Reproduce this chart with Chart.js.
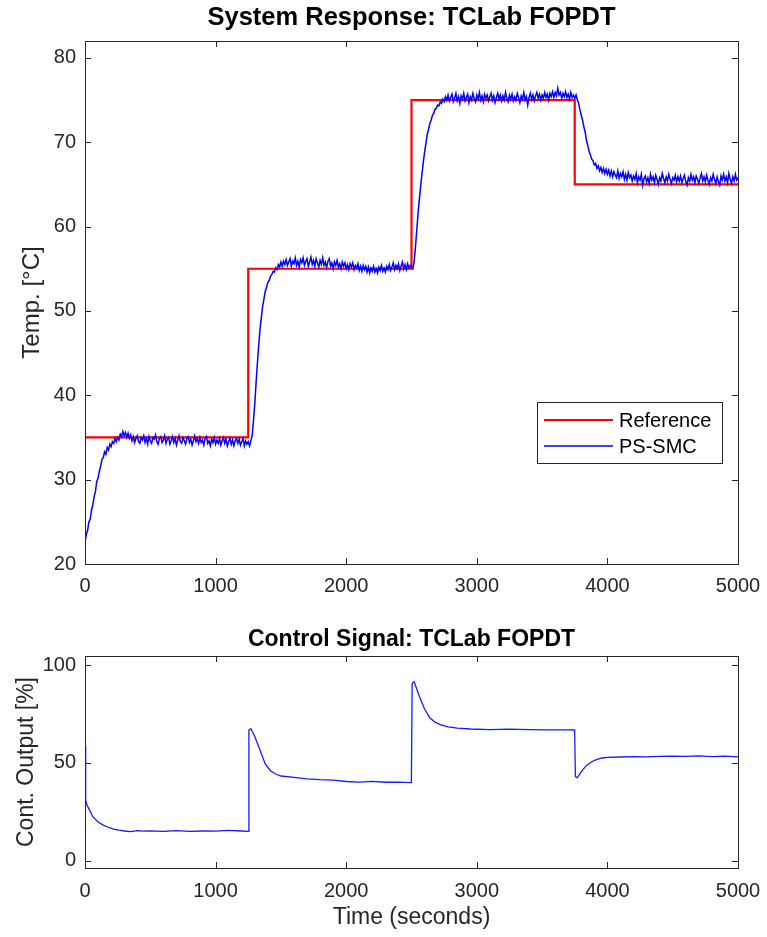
<!DOCTYPE html>
<html>
<head>
<meta charset="utf-8">
<script src="https://cdn.jsdelivr.net/npm/chart.js@4.4.1/dist/chart.umd.min.js"></script>
<style>
  body { margin: 0; background: #fff; }
  #top { position: absolute; left: 0; top: 0; width: 767px; height: 600px; }
  #bot { position: absolute; left: 0; top: 610px; width: 767px; height: 327px; }
</style>
</head>
<body>
<div id="top"><canvas id="tempChart"></canvas></div>
<div id="bot"><canvas id="uChart"></canvas></div>
<script>
// --- data ---
var tempStep = 10   // seconds between logged temperature samples

// PS-SMC measured temperature, one value every 10 s from 0 to 5000 s
var psSmcTemp = [
  // 0 - 1240 s (setpoint 35)
  22.6, 23.5, 24.0, 25.0, 25.3, 26.4, 27.0, 28.0, 28.6, 29.8,
  30.2, 31.0, 31.6, 32.4, 32.6, 33.3, 33.0, 33.8, 33.5, 34.2,
  33.9, 34.5, 34.3, 34.9, 34.5, 35.0, 34.7, 35.4, 35.1, 35.7,
  35.2, 35.6, 35.0, 35.5, 34.9, 35.3,
  34.6, 35.1, 34.4, 34.9, 35.2, 34.5, 34.3, 35.0, 34.7, 35.2,
  34.4, 34.9, 34.2, 35.1, 34.6, 34.3, 35.0, 34.8, 35.3, 34.5,
  34.2, 34.9, 35.1, 34.4, 34.7, 35.2, 34.3, 34.8, 35.0, 34.2,
  34.6, 35.1, 34.4, 34.9, 34.1, 34.7, 35.2, 34.5, 34.3, 35.0,
  34.6, 34.2, 34.9, 35.1, 34.4, 34.8, 34.1, 34.6, 35.2, 34.5,
  34.9, 34.3, 35.0, 34.4, 34.7, 34.1, 34.9, 35.1, 34.3, 34.6,
  34.0, 34.8, 34.4, 35.0, 34.2, 34.7, 34.3, 34.9, 34.1, 34.6,
  35.0, 34.3, 34.8, 34.0, 34.5, 34.9, 34.2, 34.7, 34.0, 34.6,
  34.9, 34.3, 34.8, 34.1, 34.5, 34.9, 34.0, 34.6, 34.2,
  // 1250 - 2490 s (setpoint 55)
  34.5, 34.0, 34.6, 35.2, 37.0, 39.0, 41.5, 43.8, 45.9, 47.8,
  49.2, 50.5, 51.4, 52.3, 52.8, 53.4, 53.6, 54.1, 54.3, 54.7,
  54.6, 55.1, 54.9, 55.5, 55.2, 55.8, 55.3, 55.9, 55.5, 56.1,
  55.4, 55.8, 56.2, 55.3, 55.9, 55.6, 56.3, 55.4, 55.9, 55.2,
  56.1, 55.7, 56.3, 55.4, 55.9, 56.2, 55.3, 55.8, 56.4, 55.5,
  56.0, 55.3, 56.2, 55.7, 55.2, 56.0, 55.5, 56.3, 55.4, 55.8,
  55.1, 55.9, 56.2, 55.3, 55.7, 55.0, 55.8, 55.4, 56.0, 55.2,
  55.6, 55.0, 55.8, 55.3, 55.7, 55.0, 55.5, 54.9, 55.6, 55.2,
  55.7, 54.9, 55.4, 55.1, 55.6, 54.8, 55.3, 54.7, 55.4, 54.9,
  55.3, 54.6, 55.2, 54.5, 55.1, 54.7, 55.3, 54.6, 55.0, 54.5,
  55.2, 54.8, 55.4, 54.7, 55.1, 54.6, 55.3, 54.9, 55.5, 54.8,
  55.2, 55.7, 54.9, 55.4, 55.0, 55.6, 54.8, 55.3, 55.8, 55.0,
  55.5, 54.9, 55.6, 55.1, 55.4,
  // 2500 - 3740 s (setpoint 75)
  55.2, 55.0, 55.8, 57.5, 59.5, 61.5, 63.2, 64.8, 66.2, 67.6,
  68.8, 69.8, 70.9, 71.5, 72.2, 72.6, 73.2, 73.4, 73.9, 74.0,
  74.4, 74.3, 74.8, 74.6, 75.1, 74.8, 75.4, 75.0, 75.6, 74.9,
  75.3, 75.7, 74.8, 75.2, 75.8, 74.9, 75.4, 74.6, 75.5, 75.1,
  75.8, 74.9, 75.3, 75.7, 74.7, 75.4, 75.0, 75.8, 75.2, 74.8,
  75.6, 75.1, 75.9, 75.0, 75.5, 74.8, 75.7, 75.2, 75.6, 74.9,
  75.4, 75.8, 75.0, 75.5, 74.7, 75.3, 75.8, 75.1, 75.6, 74.9,
  75.5, 75.0, 75.9, 75.2, 74.8, 75.6, 75.1, 75.7, 74.9, 75.4,
  75.0, 75.8, 75.3, 74.7, 75.5, 75.1, 75.9, 75.0, 75.4, 74.4,
  75.3, 75.8, 75.1, 75.6, 74.9, 75.5, 75.9, 75.2, 75.7, 75.0,
  75.6, 75.2, 75.9, 75.3, 75.7, 75.0, 75.8, 75.4, 76.0, 75.3,
  75.9, 75.5, 76.4, 75.6, 75.9, 75.2, 75.8, 75.4, 76.0, 75.3,
  75.7, 75.1, 75.9, 75.3, 75.6,
  // 3750 - 5000 s (setpoint 65)
  75.2, 75.6, 75.0, 74.6, 73.8, 73.2, 72.6, 71.8, 71.2, 70.2,
  69.6, 68.9, 68.5, 68.0, 67.8, 67.3, 67.5, 66.9, 67.2, 66.6,
  67.0, 66.4, 66.9, 66.3, 66.8, 66.2, 66.7, 66.0, 66.6, 65.9,
  66.5, 66.1, 65.8, 66.6, 65.7, 66.3, 65.9, 66.5, 65.6, 66.2,
  65.5, 66.4, 65.8, 66.1, 65.4, 66.0, 65.6, 66.3, 65.2, 65.9,
  65.5, 66.2, 64.9, 65.7, 66.0, 65.3, 65.8, 65.1, 66.2, 65.5,
  65.9, 65.2, 66.1, 65.6, 65.0, 65.8, 65.4, 66.3, 65.7, 65.2,
  65.9, 65.4, 66.2, 65.6, 65.1, 65.8, 65.5, 66.1, 65.3, 65.9,
  65.4, 66.0, 65.2, 65.7, 66.1, 65.3, 64.9, 65.8, 65.4, 66.2,
  65.5, 65.9, 65.2, 66.0, 65.6, 65.1, 65.8, 66.3, 65.4, 65.9,
  65.3, 66.1, 65.5, 65.0, 65.8, 65.4, 66.2, 65.6, 65.1, 65.9,
  65.3, 64.9, 66.0, 65.5, 66.2, 65.4, 65.9, 65.2, 66.3, 65.6,
  65.1, 65.9, 65.4, 66.2, 65.5, 65.8
]

// setpoint steps
var refTimes  = [0, 1250, 1250, 2500, 2500, 3750, 3750, 5000]
var refValues = [35, 35, 55, 55, 75, 75, 65, 65]

// controller output
var uTimes = [
  0, 5, 15, 30, 60, 100, 140, 180, 220, 260,
  300, 350, 400, 450, 500, 600, 700, 800, 900, 1000,
  1100, 1200, 1249, 1255, 1270, 1300, 1340, 1380, 1420, 1460,
  1500, 1600, 1700, 1800, 1900, 2000, 2100, 2200, 2300, 2400,
  2499, 2505, 2520, 2560, 2600, 2640, 2680, 2720, 2780, 2850,
  2950, 3100, 3250, 3400, 3550, 3700, 3749, 3755, 3770, 3800,
  3840, 3880, 3920, 3960, 4000, 4100, 4200, 4300, 4400, 4500,
  4600, 4700, 4800, 4900, 5000
]
var uValues = [
  58.5, 31.0, 28.5, 26.5, 22.5, 19.8, 18.2, 17.0, 16.2, 15.6,
  15.2, 14.9, 15.4, 15.1, 15.3, 15.0, 15.4, 15.0, 15.2, 15.1,
  15.5, 15.2, 15.0, 66.8, 67.5, 63.5, 56.6, 49.5, 46.0, 44.3,
  43.3, 42.6, 41.8, 41.4, 41.2, 40.5, 40.2, 40.6, 40.1, 40.2,
  39.9, 90.5, 91.5, 84.0, 77.5, 73.0, 70.8, 69.5, 68.4, 67.8,
  67.3, 67.0, 67.2, 67.0, 66.9, 66.9, 66.8, 43.0, 42.5, 45.5,
  48.7, 50.6, 51.8, 52.5, 52.8, 53.0, 53.2, 53.1, 53.3, 53.4,
  53.3, 53.6, 53.2, 53.4, 53.1
]

var timeTicks = [0, 1000, 2000, 3000, 4000, 5000]

var FONT = "'Liberation Sans', Arial, Helvetica, sans-serif"
Chart.defaults.font.family = FONT
Chart.defaults.color = '#262626'

function pairs(xs, ys) {
  var out = []
  for (var i = 0; i < ys.length; i++) out.push({x: xs[i], y: ys[i]})
  return out
}
var tempTimes = []
for (var i = 0; i < psSmcTemp.length; i++) tempTimes.push(i * tempStep)

// matlab style box with inward ticks on all four sides
var boxTicks = {
  id: 'boxTicks',
  afterDatasetsDraw: function(chart) {
    var c = chart.ctx, a = chart.chartArea
    var sx = chart.scales.x, sy = chart.scales.y
    var len = 6
    c.save()
    c.strokeStyle = '#262626'
    c.lineWidth = 1
    c.beginPath()
    sx.ticks.forEach(function(t) {
      var px = Math.round(sx.getPixelForValue(t.value)) + 0.5
      c.moveTo(px, a.bottom); c.lineTo(px, a.bottom - len)
      c.moveTo(px, a.top); c.lineTo(px, a.top + len)
    })
    sy.ticks.forEach(function(t) {
      var py = Math.round(sy.getPixelForValue(t.value)) + 0.5
      c.moveTo(a.left, py); c.lineTo(a.left + len, py)
      c.moveTo(a.right, py); c.lineTo(a.right - len, py)
    })
    c.stroke()
    c.strokeRect(Math.round(a.left) + 0.5, Math.round(a.top) + 0.5,
                 Math.round(a.right - a.left), Math.round(a.bottom - a.top))
    c.restore()
  }
}

// title centred over the axes, not the whole canvas
var axesTitle = {
  id: 'axesTitle',
  afterDraw: function(chart, args, opts) {
    var c = chart.ctx, a = chart.chartArea
    c.save()
    c.fillStyle = '#000'
    c.font = 'bold ' + opts.size + 'px ' + FONT
    c.textAlign = 'center'
    c.textBaseline = 'middle'
    c.fillText(opts.text, (a.left + a.right) / 2, opts.y)
    c.restore()
  }
}

// legend box drawn inside the axes, lower right
var innerLegend = {
  id: 'innerLegend',
  afterDraw: function(chart) {
    var c = chart.ctx, a = chart.chartArea
    var w = 185, h = 61
    var x0 = a.right - 16 - w, y0 = a.bottom - 101 - h
    c.save()
    c.fillStyle = '#fff'
    c.fillRect(x0, y0, w, h)
    c.strokeStyle = '#262626'
    c.lineWidth = 1
    c.strokeRect(x0 + 0.5, y0 + 0.5, w, h)
    var items = chart.data.datasets.slice().sort(function(p, q) { return q.order - p.order })
    c.font = '20px ' + FONT
    c.textBaseline = 'middle'
    items.forEach(function(ds, k) {
      var yy = y0 + 18 + k * 26
      c.strokeStyle = ds.borderColor
      c.lineWidth = k == 0 ? 2.2 : 1.3
      c.beginPath(); c.moveTo(x0 + 7, yy); c.lineTo(x0 + 76, yy); c.stroke()
      c.fillStyle = '#000'
      c.fillText(ds.label, x0 + 82, yy + 1)
    })
    c.restore()
  }
}

function xAxis(height, showTitle, labelPad) {
  return {
    type: 'linear', min: 0, max: 5000,
    afterBuildTicks: function(s) { s.ticks = timeTicks.map(function(v) { return {value: v} }) },
    afterFit: function(s) {
      s.height = height
      // let the layout padding alone decide the right edge
      s.paddingLeft = 0
      s.paddingRight = 0
    },
    grid: {display: false, drawTicks: false},
    border: {display: false},
    ticks: {font: {size: 20}, padding: labelPad, maxRotation: 0, color: '#262626',
            callback: function(v) { return String(v) }},
    title: {display: showTitle, text: 'Time (seconds)', font: {size: 23}, color: '#262626',
            padding: {top: 0, bottom: 6}}
  }
}

new Chart(document.getElementById('tempChart'), {
  type: 'line',
  data: {
    datasets: [{
      label: 'Reference',
      data: pairs(refTimes, refValues),
      borderColor: '#ff0000',
      borderWidth: 2.2,
      pointRadius: 0,
      order: 1
    }, {
      label: 'PS-SMC',
      data: pairs(tempTimes, psSmcTemp),
      borderColor: '#0000ff',
      borderWidth: 1.5,
      pointRadius: 0,
      order: 0
    }]
  },
  options: {
    responsive: true,
    maintainAspectRatio: false,
    animation: false,
    layout: {padding: {left: 0, right: 29, top: 41, bottom: 0}},
    plugins: {
      legend: {display: false},
      tooltip: {enabled: false},
      title: {display: false},
      axesTitle: {text: 'System Response: TCLab FOPDT', size: 25.5, y: 18}
    },
    scales: {
      x: xAxis(36, false, 10),
      y: {
        min: 20, max: 82,
        afterFit: function(s) { s.width = 85 },
        grid: {display: false, drawTicks: false},
        border: {display: false},
        ticks: {stepSize: 10, includeBounds: false, font: {size: 20}, padding: 9, color: '#262626'},
        title: {display: true, text: 'Temp. [°C]', font: {size: 24}, color: '#262626',
                padding: {top: 18, bottom: 0}}
      }
    }
  },
  plugins: [boxTicks, axesTitle, innerLegend]
})

new Chart(document.getElementById('uChart'), {
  type: 'line',
  data: {
    datasets: [{
      label: 'PS-SMC',
      data: pairs(uTimes, uValues),
      borderColor: '#1a1aff',
      borderWidth: 1.3,
      pointRadius: 0
    }]
  },
  options: {
    responsive: true,
    maintainAspectRatio: false,
    animation: false,
    layout: {padding: {left: 0, right: 29, top: 46, bottom: 0}},
    plugins: {
      legend: {display: false},
      tooltip: {enabled: false},
      title: {display: false},
      axesTitle: {text: 'Control Signal: TCLab FOPDT', size: 23, y: 30}
    },
    scales: {
      x: xAxis(69, true, 11),
      y: {
        min: -3.7, max: 104.6,
        afterFit: function(s) { s.width = 85 },
        grid: {display: false, drawTicks: false},
        border: {display: false},
        ticks: {stepSize: 50, includeBounds: false, font: {size: 20}, padding: 9, color: '#262626'},
        title: {display: true, text: 'Cont. Output [%]', font: {size: 23}, color: '#262626',
                padding: {top: 13, bottom: 0}}
      }
    }
  },
  plugins: [boxTicks, axesTitle]
})
</script>
</body>
</html>
